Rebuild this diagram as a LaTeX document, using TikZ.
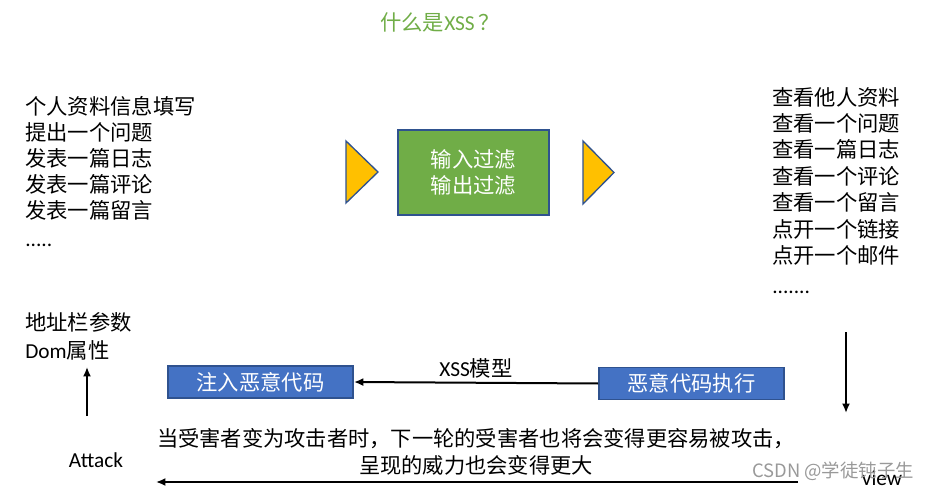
\documentclass[tikz,border=0pt]{standalone}
\usepackage{fontspec}
\setmainfont{Noto Sans CJK SC}
\newfontfamily\lat{Carlito}
\usetikzlibrary{arrows.meta}
\definecolor{ogreen}{HTML}{70AD47}
\definecolor{oblue}{HTML}{4472C4}
\definecolor{dblue}{HTML}{2F528F}
\definecolor{ogold}{HTML}{FFC000}
\tikzset{
  txt/.style={inner sep=0pt, font=\fontsize{16}{19.5}\selectfont, text=black},
  list/.style={txt, align=left, anchor=north west},
  filterbox/.style={draw=dblue, line width=1.5pt, fill=ogreen, text=white, align=center,
     minimum width=113pt, minimum height=64pt, font=\fontsize{16}{19.5}\selectfont},
  codebox/.style={draw=dblue, line width=1.2pt, fill=oblue, text=white,
     minimum width=139pt, minimum height=24pt, inner sep=0pt, font=\fontsize{16}{19.5}\selectfont},
  tri/.style={draw=dblue, line width=1pt, fill=ogold},
  arr/.style={line width=1.5pt, -{Latex[length=7pt,width=6pt]}},
}
\begin{document}
\begin{tikzpicture}[x=0.75pt,y=-0.75pt]
\useasboundingbox (0,0) rectangle (933,492);
% title
\node[txt, text=ogreen] (title) at (440,22) {什么是{\lat XSS}\,？};
% left list
\node[list, font=\fontsize{16}{19.6}\selectfont] (inlist) at (25,96) {个人资料信息填写\\提出一个问题\\发表一篇日志\\发表一篇评论\\发表一篇留言\\[1pt]{\lat .....}};
% right list
\node[list, font=\fontsize{16}{19.8}\selectfont] (outlist) at (772,87) {查看他人资料\\查看一个问题\\查看一篇日志\\查看一个评论\\查看一个留言\\点开一个链接\\点开一个邮件\\[3pt]{\lat .......}};
% triangles
\draw[tri] (346,141) -- (378,172) -- (346,203) -- cycle;
\draw[tri] (583,141) -- (614,172.5) -- (583,204) -- cycle;
% filter box
\node[filterbox] (filter) at (473.5,172.5) {输入过滤\\输出过滤};
% bottom left text
\node[list, font=\fontsize{16}{21}\selectfont] (dom) at (25,312) {地址栏参数\\{\lat Dom}属性};
\node[txt, font=\fontsize{16}{19.5}\selectfont\lat] (attack) at (96,460) {Attack};
\coordinate (upS) at (87,416);
\coordinate (upE) at (87,367);
\draw[arr] (upS) -- (upE);
% code boxes
\node[codebox] (inject) at (260.5,382) {注入恶意代码};
\node[codebox] (exec) at (691.5,383.5) {恶意代码执行};
\draw[arr] (exec.west) -- (inject.east) node[midway, above=3pt, txt] (model) {{\lat XSS}模型};
% right down arrow
\coordinate (dnS) at (846,332);
\coordinate (dnE) at (846,413);
\draw[arr] (dnS) -- (dnE);
% explanation
\node[txt, align=center, font=\fontsize{15.95}{20.3}\selectfont] (expl) at (476,451.5)
  {当受害者变为攻击者时，下一轮的受害者也将会变得更容易被攻击，\\呈现的威力也会变得更大};
\node[txt, font=\fontsize{16}{19.5}\selectfont\lat] (view) at (882,478) {view};
\coordinate (botS) at (798,482);
\coordinate (botE) at (156,482);
\draw[arr] (botS) -- (botE);
% watermark
\node[inner sep=0pt, text=black!40, font=\fontsize{13.8}{15}\selectfont] (wm) at (833,471) {CSDN @学徒钝子生};
\end{tikzpicture}
\end{document}
